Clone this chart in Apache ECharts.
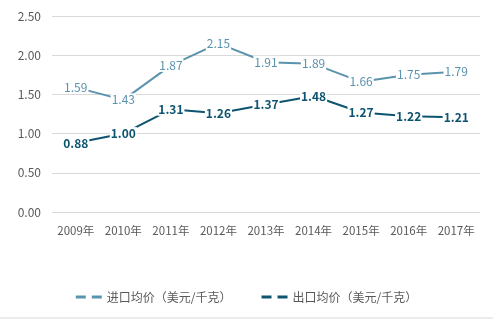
<!DOCTYPE html>
<html><head><meta charset="utf-8">
<script src="https://cdn.jsdelivr.net/npm/echarts@6/dist/echarts.min.js"></script>
<style>html,body{margin:0;padding:0;background:#fff}#c{width:493px;height:323px}</style>
</head><body><div id="c"></div>
<script>
var categories = ['2009年','2010年','2011年','2012年','2013年','2014年','2015年','2016年','2017年'];
var importPrice = [1.59,1.43,1.87,2.15,1.91,1.89,1.66,1.75,1.79];
var exportPrice = [0.88,1.00,1.31,1.26,1.37,1.48,1.27,1.22,1.21];
var seriesNames = ['进口均价（美元/千克）','出口均价（美元/千克）'];
var colors = ['#5a93ad','#0d5470'];
var font = '"Noto Sans CJK SC", "Noto Sans", sans-serif';
var dashIcon = 'path://M0,0h10v3h-10z M16,0h10v3h-10z';
var chart = echarts.init(document.getElementById('c'));
function mkSeries(name, data, color, bold){
  return {
    name: name, type: 'line', data: data, symbol: 'circle', symbolSize: 0.1, showSymbol: true,
    lineStyle: {color: color, width: 2}, itemStyle: {color: color},
    label: {show: true, position: 'inside', formatter: function(p){return p.value.toFixed(2);},
      color: color, fontSize: 12, fontWeight: bold ? 'bold' : 'normal', fontFamily: font,
      backgroundColor: '#fff', padding: [0,1], lineHeight: 13},
    labelLayout: {hideOverlap: false},
    z: bold ? 3 : 2
  };
}
chart.setOption({
  animation: false,
  color: colors,
  grid: {left: 52, right: 13, top: 16, bottom: 111},
  legend: {
    bottom: 15, left: 'center', itemGap: 30, itemWidth: 26, itemHeight: 3,
    icon: dashIcon,
    textStyle: {color: '#595959', fontSize: 12, fontFamily: font},
    data: seriesNames
  },
  xAxis: {
    type: 'category', data: categories, boundaryGap: true,
    axisLine: {show: false}, axisTick: {show: false},
    axisLabel: {color: '#595959', fontSize: 11.5, fontFamily: font, margin: 13, interval: 0, hideOverlap: false}
  },
  yAxis: {
    type: 'value', min: 0, max: 2.5, interval: 0.5,
    axisLabel: {color: '#595959', fontSize: 12, fontFamily: font, margin: 11,
      formatter: function(v){return v.toFixed(2);}},
    splitLine: {lineStyle: {color: '#d9d9d9', width: 1}},
    axisLine: {show: false}, axisTick: {show: false}
  },
  graphic: [{type: 'line', shape: {x1: 0, y1: 318, x2: 493, y2: 318}, style: {stroke: '#d9d9d9', lineWidth: 1}}],
  series: [
    mkSeries(seriesNames[0], importPrice, colors[0], false),
    mkSeries(seriesNames[1], exportPrice, colors[1], true)
  ]
});
</script></body></html>
